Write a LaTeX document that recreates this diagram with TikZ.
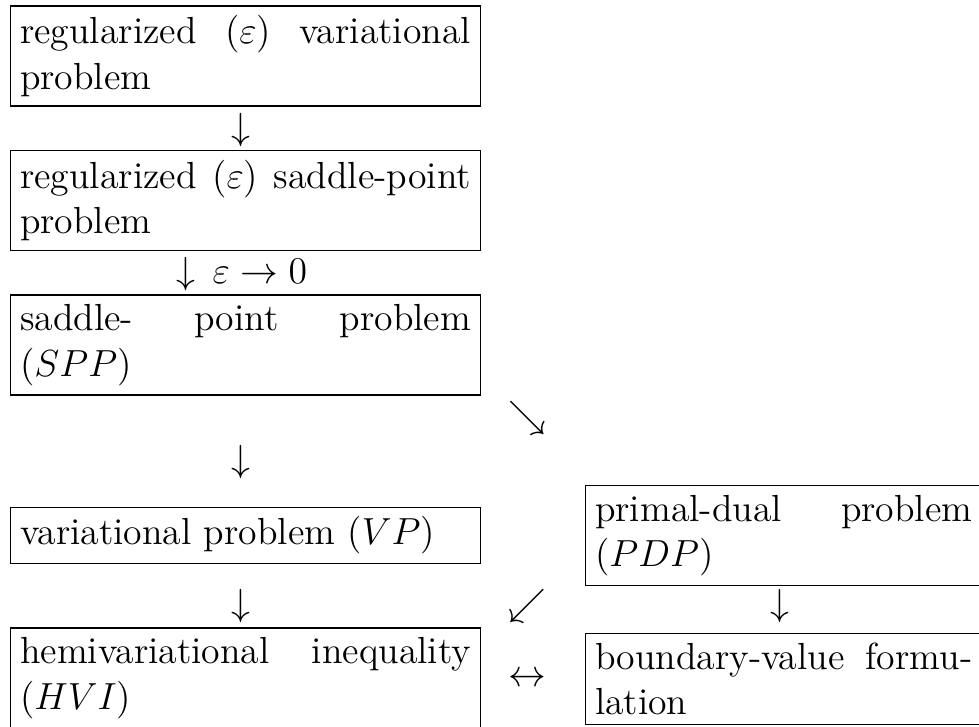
\documentclass[tikz,border=0pt]{standalone}
\tikzset{
  box/.style={draw, line width=0.4pt, inner sep=3pt, text width=143.4pt,
    align=justify, font=\fontsize{12}{14.5}\selectfont, anchor=west},
  rbox/.style={box, text width=120pt},
  sym/.style={inner sep=0pt, font=\fontsize{12}{14.5}\selectfont}
}
\begin{document}
\begin{tikzpicture}[x=0.318pt,y=-0.318pt]
\clip (0,0) rectangle (979,726);
% left column
\node[box] (b1) at (10,56) {regularized ($\varepsilon$) variational\linebreak problem};
\node[box] (b2) at (10,200.5) {regularized ($\varepsilon$) saddle-point\linebreak problem};
\node[box] (b3) at (10,345) {saddle- point problem\linebreak ($SPP$)};
\node[box] (vp) at (10,535.5) {variational problem ($VP$)};
\node[box] (hvi) at (10,678) {hemivariational inequality\linebreak ($HVI$)};
% right column
\node[rbox] (pdp) at (585,535.5) {primal-dual problem\linebreak ($PDP$)};
\node[rbox] (bvf) at (585,679) {boundary-value formu-\linebreak lation};
% arrow symbols
\node[sym] (a1) at (241,130) {$\downarrow$};
\node[sym, anchor=base] (a2) at (242,283) {$\downarrow\,\varepsilon\to0$};
\node[sym] (a3) at (241,462) {$\downarrow$};
\node[sym] (a4) at (527,418) {$\searrow$};
\node[sym] (a5) at (241,606) {$\downarrow$};
\node[sym] (a6) at (527,606) {$\swarrow$};
\node[sym] (a7) at (780,606) {$\downarrow$};
\node[sym] (a8) at (527,680) {$\leftrightarrow$};
\end{tikzpicture}
\end{document}
